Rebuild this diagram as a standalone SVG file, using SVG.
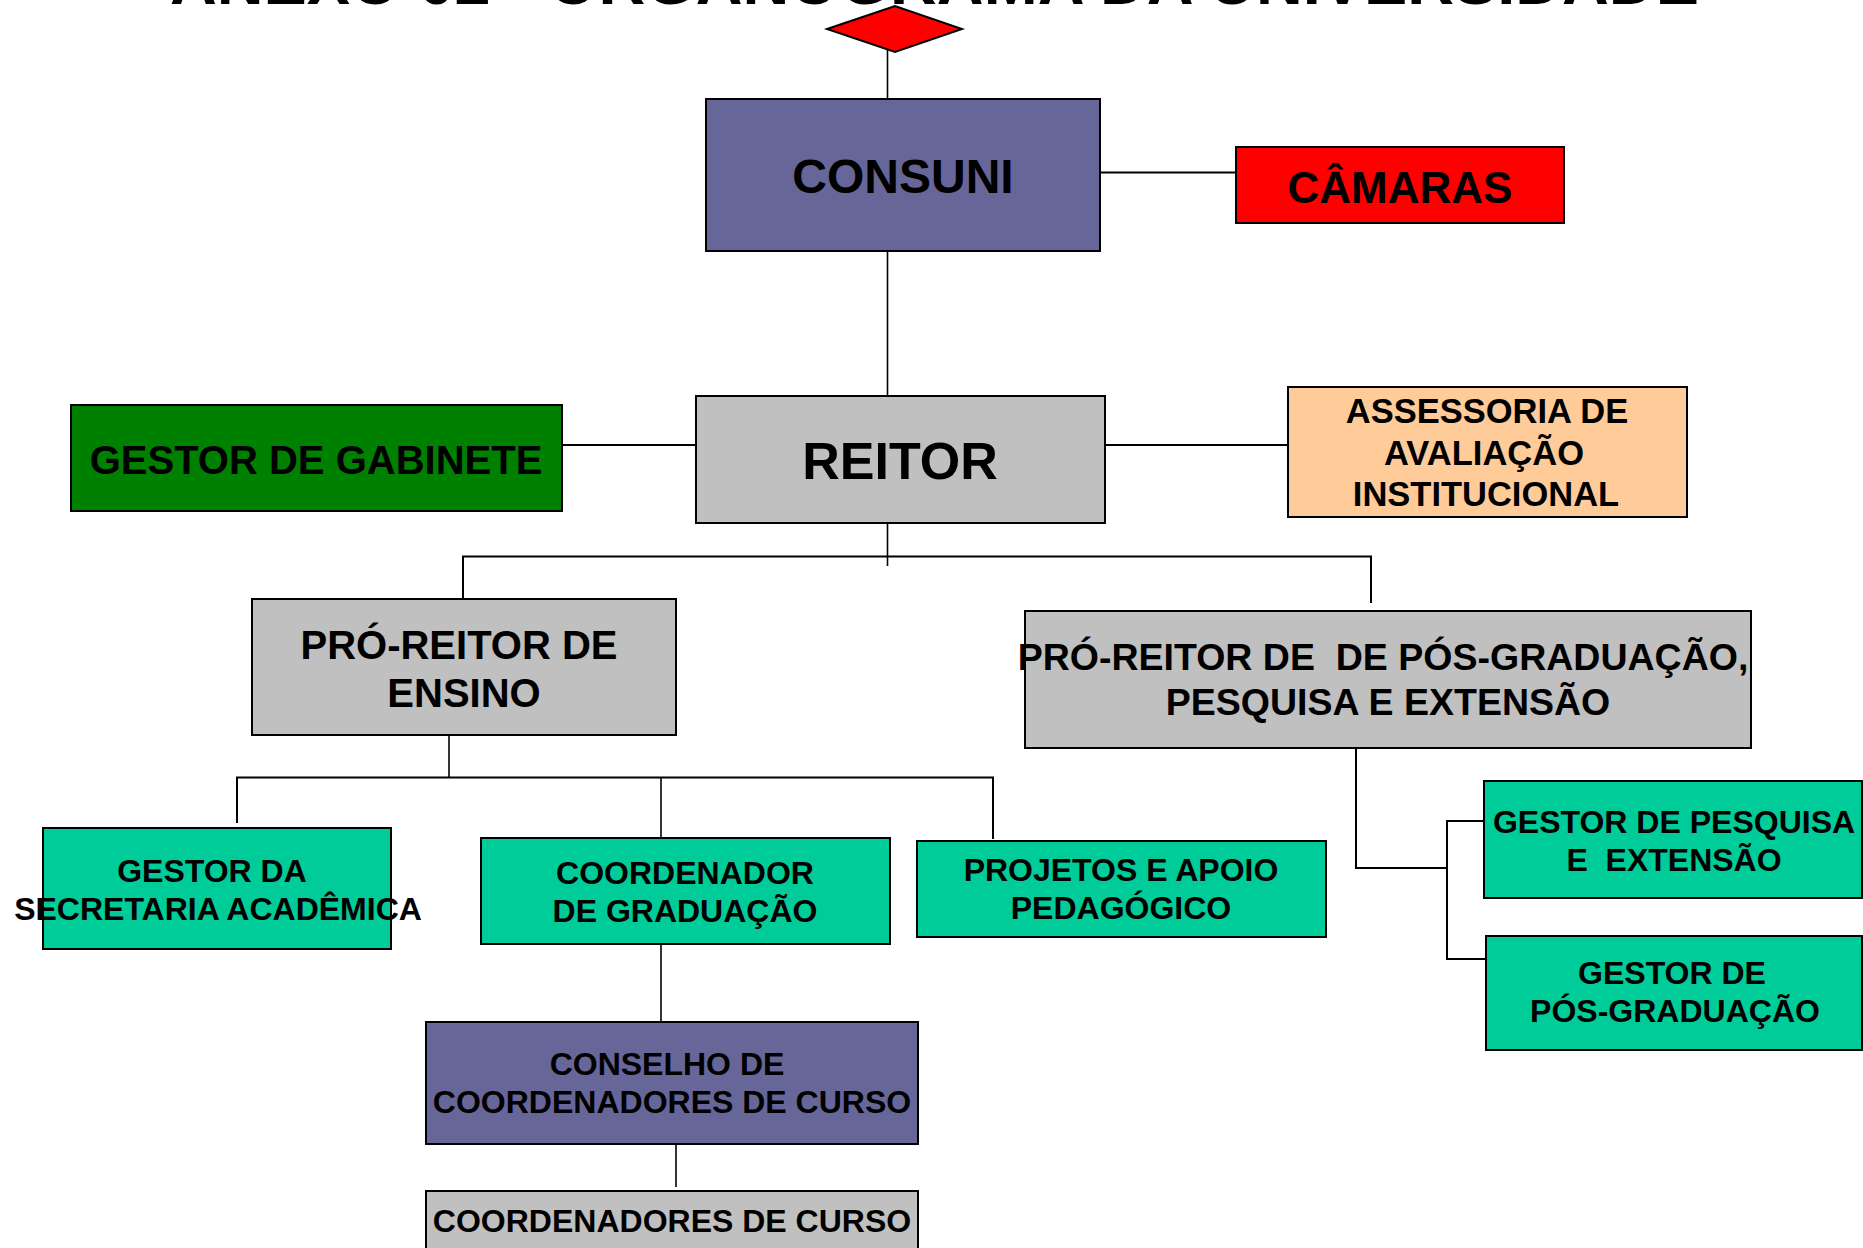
<svg xmlns="http://www.w3.org/2000/svg" width="1863" height="1248" viewBox="0 0 1863 1248">
<style>
  text { font-family: "Liberation Sans", Arial, sans-serif; font-weight: bold; fill: #000; text-anchor: middle; }
  .box { stroke: #000; stroke-width: 2; }
  .navy { fill: #666699; }
  .gray { fill: #C0C0C0; }
  .teal { fill: #00CC99; }
  .conn line, .conn polyline { stroke: #000; stroke-width: 1.6; fill: none; }
  .pre { white-space: pre; }
  .f32 { font-size: 32px; }
</style>
<rect width="1863" height="1248" fill="#fff"/>
<text x="170" y="4" style="text-anchor:start;font-size:64.8px">ANEXO 02 - ORGANOGRAMA DA UNIVERSIDADE</text>

<g class="conn" id="connectors">
  <line x1="887.5" y1="50" x2="887.5" y2="99"/>
  <line x1="1100" y1="172.5" x2="1236" y2="172.5" style="stroke-width:2"/>
  <line x1="887.5" y1="248" x2="887.5" y2="400"/>
  <line x1="562" y1="445" x2="698" y2="445" style="stroke-width:2"/>
  <line x1="1105" y1="445" x2="1288" y2="445" style="stroke-width:2"/>
  <line x1="887.5" y1="520" x2="887.5" y2="566"/>
  <polyline points="463,602 463,556.5 1371,556.5 1371,603" style="stroke-width:2"/>
  <line x1="449" y1="731" x2="449" y2="778"/>
  <polyline points="237,823 237,777.5 993,777.5 993,839" style="stroke-width:2"/>
  <line x1="661" y1="777.5" x2="661" y2="838"/>
  <line x1="661" y1="944" x2="661" y2="1021"/>
  <line x1="676" y1="1140" x2="676" y2="1187"/>
  <polyline points="1356,748 1356,868 1447,868" style="stroke-width:2"/>
  <polyline points="1493,821 1447,821 1447,959 1493,959" style="stroke-width:2"/>
</g>

<g id="diamond">
  <polygon points="827,29 895,6 962,29 895,52" fill="#FF0000" stroke="#000" stroke-width="2"/>
</g>

<g id="consuni">
  <rect class="box navy" x="706" y="99" width="394" height="152"/>
  <text x="903" y="193" style="font-size:48px">CONSUNI</text>
</g>

<g id="camaras">
  <rect class="box" fill="#FF0000" x="1236" y="147" width="328" height="76"/>
  <text x="1400" y="203" style="font-size:44px">CÂMARAS</text>
</g>

<g id="reitor">
  <rect class="box gray" x="696" y="396" width="409" height="127"/>
  <text x="900" y="479" style="font-size:52px">REITOR</text>
</g>

<g id="gestor-gabinete">
  <rect class="box" fill="#008000" x="71" y="405" width="491" height="106"/>
  <text x="316" y="474" style="font-size:40px">GESTOR DE GABINETE</text>
</g>

<g id="assessoria">
  <rect class="box" fill="#FFCC99" x="1288" y="387" width="399" height="130"/>
  <text x="1487" y="423" style="font-size:34.5px">ASSESSORIA DE</text>
  <text x="1484" y="464.5" style="font-size:34.5px">AVALIAÇÃO</text>
  <text x="1486" y="506" style="font-size:34.5px">INSTITUCIONAL</text>
</g>

<g id="pro-reitor-ensino">
  <rect class="box gray" x="252" y="599" width="424" height="136"/>
  <text x="459" y="659" style="font-size:40px">PRÓ-REITOR DE</text>
  <text x="464" y="707" style="font-size:40px">ENSINO</text>
</g>

<g id="pro-reitor-pg">
  <rect class="box gray" x="1025" y="611" width="726" height="137"/>
  <text class="pre" x="1383" y="670" style="font-size:37.5px">PRÓ-REITOR DE  DE PÓS-GRADUAÇÃO,</text>
  <text x="1388" y="715" style="font-size:37.5px">PESQUISA E EXTENSÃO</text>
</g>

<g id="gestor-secretaria">
  <rect class="box teal" x="43" y="828" width="348" height="121"/>
  <text class="f32" x="212" y="882">GESTOR DA</text>
  <text class="f32" x="218" y="920">SECRETARIA ACADÊMICA</text>
</g>

<g id="coordenador-graduacao">
  <rect class="box teal" x="481" y="838" width="409" height="106"/>
  <text class="f32" x="685" y="884">COORDENADOR</text>
  <text class="f32" x="685" y="922">DE GRADUAÇÃO</text>
</g>

<g id="projetos">
  <rect class="box teal" x="917" y="841" width="409" height="96"/>
  <text class="f32" x="1121" y="881">PROJETOS E APOIO</text>
  <text class="f32" x="1121" y="919">PEDAGÓGICO</text>
</g>

<g id="gestor-pesquisa">
  <rect class="box teal" x="1484" y="781" width="378" height="117"/>
  <text class="f32" x="1674" y="833">GESTOR DE PESQUISA</text>
  <text class="f32 pre" x="1674" y="871">E  EXTENSÃO</text>
</g>

<g id="gestor-pos">
  <rect class="box teal" x="1486" y="936" width="376" height="114"/>
  <text class="f32" x="1672" y="984">GESTOR DE</text>
  <text class="f32" x="1675" y="1022">PÓS-GRADUAÇÃO</text>
</g>

<g id="conselho">
  <rect class="box navy" x="426" y="1022" width="492" height="122"/>
  <text class="f32" x="667" y="1075">CONSELHO DE</text>
  <text class="f32" x="672" y="1113">COORDENADORES DE CURSO</text>
</g>

<g id="coordenadores-curso">
  <rect class="box gray" x="426" y="1191" width="492" height="100"/>
  <text class="f32" x="672" y="1232">COORDENADORES DE CURSO</text>
</g>
</svg>
